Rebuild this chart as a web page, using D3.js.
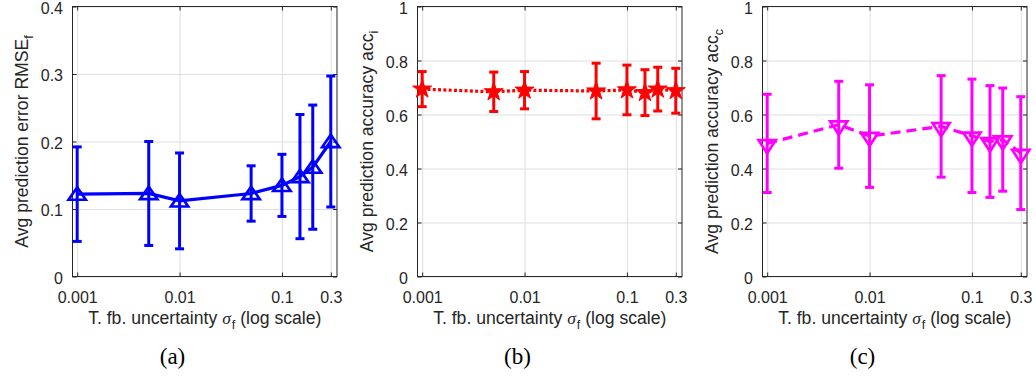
<!DOCTYPE html>
<html>
<head>
<meta charset="utf-8">
<script src="https://cdn.jsdelivr.net/npm/d3@7"></script>
<style>
  body { margin: 0; background: #fff; }
  svg { display: block; }
</style>
</head>
<body>
<div id="chart"></div>
<script>
// feedback uncertainty values (x, log scale)
const sigma = [0.001, 0.005, 0.01, 0.05, 0.1, 0.15, 0.2, 0.3];

// (a) RMSE_f
const rmseMean = [0.122, 0.123, 0.112, 0.123, 0.135, 0.148, 0.162, 0.200];
const rmseErr = [0.070, 0.077, 0.071, 0.041, 0.046, 0.092, 0.092, 0.097];
// (b) acc_i
const accIMean = [0.694, 0.684, 0.690, 0.687, 0.691, 0.681, 0.694, 0.688];
const accIErr = [0.065, 0.073, 0.069, 0.103, 0.092, 0.085, 0.081, 0.083];
// (c) acc_c
const accCMean = [0.493, 0.562, 0.520, 0.556, 0.521, 0.500, 0.507, 0.457];
const accCErr = [0.182, 0.161, 0.190, 0.188, 0.210, 0.207, 0.191, 0.209];

const xTicks = [0.001, 0.01, 0.1, 0.3];
const xTickLabels = ['0.001', '0.01', '0.1', '0.3'];
const yTicksA = [0, 0.1, 0.2, 0.3, 0.4];
const yTickLabelsA = ['0', '0.1', '0.2', '0.3', '0.4'];
const yTicksB = [0, 0.2, 0.4, 0.6, 0.8, 1];
const yTickLabelsB = ['0', '0.2', '0.4', '0.6', '0.8', '1'];
const captions = ['(a)', '(b)', '(c)'];

const W = 1036, H = 381, panelW = 345;
const margin = {top: 6.5, left: 72.5};
const width = 264.5, height = 270;
const axisColor = '#262626', gridColor = '#dfdfdf';
const tickFont = 16, labelFont = 17.6;

const svg = d3.select('#chart').append('svg')
	.attr('width', W)
	.attr('height', H)
	.style('font-family', '"Liberation Sans", Arial, sans-serif');

const markerPath = {
	up: 'M0,-6.8L8.6,5.6L-8.6,5.6Z',
	down: 'M0,10L8.6,-3.3L-8.6,-3.3Z',
	star: d3.symbol(d3.symbolStar, 112)()
};

const panels = [
	{mean: rmseMean, err: rmseErr, color: '#0000ff', dash: null, marker: 'up', fill: 'none',
		yMax: 0.4, yTicks: yTicksA, yLabels: yTickLabelsA, ylab: 'Avg prediction error RMSE', ysub: 'f'},
	{mean: accIMean, err: accIErr, color: '#ff0000', dash: '3,2.3', marker: 'star', fill: '#ff0000',
		yMax: 1, yTicks: yTicksB, yLabels: yTickLabelsB, ylab: 'Avg prediction accuracy acc', ysub: 'i'},
	{mean: accCMean, err: accCErr, color: '#ff00ff', dash: '10,6', marker: 'down', fill: 'none',
		yMax: 1, yTicks: yTicksB, yLabels: yTickLabelsB, ylab: 'Avg prediction accuracy acc', ysub: 'c'}
];

panels.forEach(function (p, i) {
	const ox = i * panelW;
	const g = svg.append('g').attr('transform', 'translate(' + (ox + margin.left) + ',' + margin.top + ')');

	const x = d3.scaleLog().domain([0.0009, 0.345]).range([0, width]);
	const y = d3.scaleLinear().domain([0, p.yMax]).range([height, 0]);

	// grid
	g.append('g')
		.attr('transform', 'translate(0,' + height + ')')
		.call(d3.axisBottom(x).tickValues(xTicks).tickSize(-height).tickFormat(''))
		.call(s => s.select('.domain').remove())
		.selectAll('line').attr('stroke', gridColor);
	g.append('g')
		.call(d3.axisLeft(y).tickValues(p.yTicks).tickSize(-width).tickFormat(''))
		.call(s => s.select('.domain').remove())
		.selectAll('line').attr('stroke', gridColor);

	// box
	g.append('rect')
		.attr('width', width).attr('height', height)
		.attr('fill', 'none').attr('stroke', axisColor).attr('stroke-width', 1);

	// axes with inward ticks
	const xAxis = g.append('g')
		.attr('transform', 'translate(0,' + height + ')')
		.call(d3.axisBottom(x).tickValues(xTicks).tickFormat((d, k) => xTickLabels[k]).tickSize(-4).tickPadding(15));
	g.append('g')
		.call(d3.axisTop(x).tickValues(xTicks).tickFormat('').tickSize(-4));
	const yAxis = g.append('g')
		.call(d3.axisLeft(y).tickValues(p.yTicks).tickFormat((d, k) => p.yLabels[k]).tickSize(-4).tickPadding(9.5));
	g.append('g')
		.attr('transform', 'translate(' + width + ',0)')
		.call(d3.axisRight(y).tickValues(p.yTicks).tickFormat('').tickSize(-4));

	g.selectAll('.domain').remove();
	g.selectAll('.tick line').filter(function () { return this.getAttribute('stroke') !== gridColor; })
		.attr('stroke', axisColor);
	[xAxis, yAxis].forEach(a => a.attr('font-family', null).attr('font-size', tickFont)
		.selectAll('text').attr('fill', axisColor));
	yAxis.selectAll('text').attr('dy', '0.42em');

	// error bars
	const bars = g.append('g').attr('stroke', p.color).attr('stroke-width', 3).attr('fill', 'none');
	sigma.forEach(function (s, k) {
		const cx = x(s), y0 = y(p.mean[k] - p.err[k]), y1 = y(p.mean[k] + p.err[k]);
		bars.append('line').attr('x1', cx).attr('x2', cx).attr('y1', y0).attr('y2', y1);
		bars.append('line').attr('x1', cx - 4.5).attr('x2', cx + 4.5).attr('y1', y0).attr('y2', y0);
		bars.append('line').attr('x1', cx - 4.5).attr('x2', cx + 4.5).attr('y1', y1).attr('y2', y1);
	});

	// connecting line
	const line = d3.line().x((d, k) => x(sigma[k])).y(d => y(d));
	g.append('path')
		.datum(p.mean)
		.attr('d', line)
		.attr('fill', 'none')
		.attr('stroke', p.color)
		.attr('stroke-width', 3.2)
		.attr('stroke-dasharray', p.dash);

	// markers
	g.selectAll('.mk')
		.data(p.mean)
		.enter().append('path')
		.attr('class', 'mk')
		.attr('transform', (d, k) => 'translate(' + x(sigma[k]) + ',' + y(d) + ')')
		.attr('d', markerPath[p.marker])
		.attr('fill', p.fill)
		.attr('stroke', p.color)
		.attr('stroke-width', p.marker === 'star' ? 1 : 2.7);

	// y label
	const yl = svg.append('text')
		.attr('transform', 'translate(' + (ox + 28) + ',' + (margin.top + height / 2) + ') rotate(-90)')
		.attr('text-anchor', 'middle')
		.attr('font-size', labelFont)
		.attr('fill', axisColor);
	yl.append('tspan').text(p.ylab);
	yl.append('tspan').attr('font-size', 12.5).attr('dy', 4.5).text(p.ysub);

	// x label
	const xl = svg.append('text')
		.attr('x', ox + margin.left + width / 2)
		.attr('y', 324)
		.attr('text-anchor', 'middle')
		.attr('font-size', labelFont)
		.attr('fill', axisColor);
	xl.append('tspan').text('T. fb. uncertainty ');
	xl.append('tspan').attr('font-family', '"Liberation Serif", serif').attr('font-style', 'italic').text('σ');
	xl.append('tspan').attr('font-size', 12.5).attr('dy', 5).attr('dx', 1).text('f');
	xl.append('tspan').attr('dy', -5).text(' (log scale)');

	// caption
	svg.append('text')
		.attr('x', ox + panelW / 2)
		.attr('y', 364)
		.attr('text-anchor', 'middle')
		.attr('font-family', '"Liberation Serif", "Times New Roman", serif')
		.attr('font-size', 23)
		.attr('fill', '#000')
		.text(captions[i]);
});
</script>
</body>
</html>
